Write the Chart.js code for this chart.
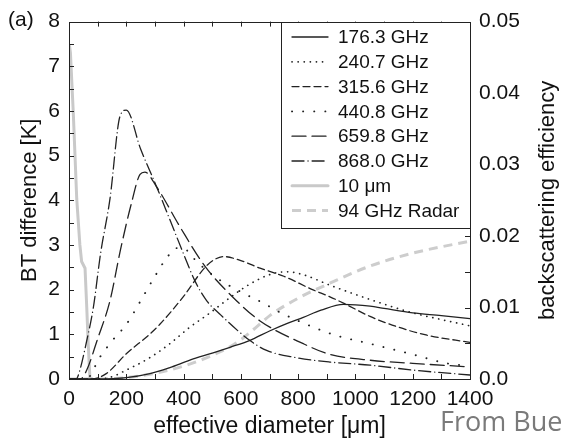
<!DOCTYPE html>
<html>
<head>
<meta charset="utf-8">
<script src="https://cdn.jsdelivr.net/npm/chart.js@4"></script>
<style>
  html, body { margin: 0; padding: 0; background: #fff; }
  #wrap { position: relative; width: 562px; height: 443px; }
</style>
</head>
<body>
<div id="wrap"><canvas id="bt-chart" width="562" height="443"></canvas></div>
<script>
// effective diameter [um] / BT difference [K]
const diam176 = [0, 100, 200, 283, 350, 422, 500, 562, 630, 702, 760, 818, 880, 958, 1051, 1100, 1200, 1300, 1400];
const bt176   = [0, 0, 0.03, 0.12, 0.25, 0.42, 0.58, 0.71, 0.86, 1.08, 1.24, 1.38, 1.54, 1.67, 1.63, 1.58, 1.48, 1.42, 1.35];

const diam240 = [0, 100, 150, 200, 283, 350, 422, 486, 562, 620, 702, 760, 820, 911, 1051, 1200, 1300, 1400];
const bt240   = [0, 0, 0.05, 0.2, 0.48, 0.78, 1.16, 1.45, 1.82, 2.08, 2.34, 2.4, 2.33, 2.1, 1.78, 1.48, 1.33, 1.19];

const diam315 = [0, 80, 130, 201, 283, 318, 400, 475, 510, 540, 600, 667, 750, 850, 911, 964, 1051, 1150, 1250, 1400];
const bt315   = [0, 0, 0.12, 0.57, 1.01, 1.23, 1.85, 2.5, 2.68, 2.74, 2.65, 2.48, 2.3, 2.0, 1.84, 1.68, 1.4, 1.16, 0.98, 0.82];

const diam440 = [0, 60, 108, 150, 201, 250, 300, 340, 376, 400, 450, 516, 600, 678, 737, 853, 935, 1051, 1200, 1319, 1400];
const bt440   = [0, 0, 0.49, 0.85, 1.23, 1.75, 2.3, 2.7, 2.93, 2.92, 2.6, 2.26, 1.95, 1.7, 1.49, 1.16, 0.97, 0.79, 0.55, 0.35, 0.29];

const diam659 = [0, 40, 62, 100, 143, 180, 219, 248, 265, 306, 388, 475, 574, 667, 818, 911, 1051, 1200, 1400];
const bt659   = [0, 0, 0.2, 0.9, 1.75, 2.9, 3.96, 4.58, 4.63, 4.3, 3.4, 2.52, 1.82, 1.3, 0.79, 0.55, 0.42, 0.35, 0.27];

const diam868 = [0, 25, 38, 60, 85, 110, 143, 178, 200, 250, 306, 350, 400, 440, 481, 527, 632, 690, 783, 911, 1051, 1200, 1400];
const bt868   = [0, 0, 0.2, 0.8, 1.6, 2.8, 4.03, 5.88, 6.02, 5.15, 4.3, 3.6, 2.8, 2.19, 1.75, 1.45, 0.86, 0.64, 0.49, 0.38, 0.31, 0.2, 0.09];

const diamIR = [2, 5, 15, 27, 38, 44, 56, 62, 67, 73, 80];
const btIR   = [7.45, 7.3, 5.95, 4.03, 3.0, 2.63, 2.48, 1.6, 0.8, 0.02, 0];

// backscattering efficiency, right axis
const diamRadar = [0, 100, 200, 300, 400, 500, 562, 600, 667, 702, 800, 911, 1051, 1200, 1400];
const bscRadar  = [0, 0, 0.0002, 0.0008, 0.0018, 0.0033, 0.0045, 0.0055, 0.0077, 0.0089, 0.0113, 0.0134, 0.0158, 0.0176, 0.0193];

const xTickValues = [0, 200, 400, 600, 800, 1000, 1200, 1400];
const xMinorTicks = [100, 200, 300, 400, 500, 600, 700, 800, 900, 1000, 1100, 1200, 1300];
const yTickValues = [0, 1, 2, 3, 4, 5, 6, 7, 8];
const yMinorTicks = [0.5, 1, 1.5, 2, 2.5, 3, 3.5, 4, 4.5, 5, 5.5, 6, 6.5, 7, 7.5];
const y2TickValues = [0, 0.01, 0.02, 0.03, 0.04, 0.05];
const y2TickLabels = ['0.0', '0.01', '0.02', '0.03', '0.04', '0.05'];
const y2MinorTicks = [0.005, 0.01, 0.015, 0.02, 0.025, 0.03, 0.035, 0.04, 0.045];

const FONT = '"Liberation Sans", Arial, Helvetica, sans-serif';
const INK = '#222';

const toPts = (xs, ys) => xs.map((x, i) => ({ x, y: ys[i] }));

const series = (label, xs, ys, dash, extra = {}) => ({
    label,
    data: toPts(xs, ys),
    borderColor: INK,
    borderWidth: 1.3,
    borderDash: dash,
    borderCapStyle: 'round',
    pointRadius: 0,
    cubicInterpolationMode: 'monotone',
    yAxisID: 'y',
    ...extra,
});

const datasets = [
    series('176.3 GHz', diam176, bt176, []),
    series('240.7 GHz', diam240, bt240, [0.1, 6], { borderWidth: 1.7 }),
    series('315.6 GHz', diam315, bt315, [7, 4]),
    series('440.8 GHz', diam440, bt440, [0.1, 11], { borderWidth: 1.9 }),
    series('659.8 GHz', diam659, bt659, [14, 6]),
    series('868.0 GHz', diam868, bt868, [12, 4, 0.1, 4]),
    series('10 \u03bcm', diamIR, btIR, [], { borderColor: '#c9c9c9', borderWidth: 3, cubicInterpolationMode: 'default', tension: 0 }),
    series('94 GHz Radar', diamRadar, bscRadar, [9, 6], { borderColor: '#cdcdcd', borderWidth: 3, borderCapStyle: 'butt', yAxisID: 'y2' }),
];

// inward ticks on all four sides and the plot frame
const frameTicks = {
    id: 'frameTicks',
    afterDatasetsDraw(chart) {
        const { ctx, chartArea: a, scales } = chart;
        const len = 5;
        ctx.save();
        ctx.strokeStyle = INK;
        ctx.lineWidth = 1;
        ctx.beginPath();
        xMinorTicks.forEach(v => {
            const px = Math.round(scales.x.getPixelForValue(v)) + 0.5;
            ctx.moveTo(px, a.bottom); ctx.lineTo(px, a.bottom - len);
            ctx.moveTo(px, a.top); ctx.lineTo(px, a.top + len);
        });
        yMinorTicks.forEach(v => {
            const py = Math.round(scales.y.getPixelForValue(v)) + 0.5;
            ctx.moveTo(a.left, py); ctx.lineTo(a.left + len, py);
        });
        y2MinorTicks.forEach(v => {
            const py = Math.round(scales.y2.getPixelForValue(v)) + 0.5;
            ctx.moveTo(a.right, py); ctx.lineTo(a.right - len, py);
        });
        ctx.stroke();
        ctx.strokeRect(Math.round(a.left) + 0.5, Math.round(a.top) + 0.5,
            Math.round(a.right - a.left), Math.round(a.bottom - a.top));
        ctx.restore();
    },
};

// boxed legend in the upper right, samples use each dataset's own dash
const boxLegend = {
    id: 'boxLegend',
    afterDraw(chart) {
        const { ctx, chartArea: a } = chart;
        const left = 281, top = Math.round(a.top), right = Math.round(a.right), bottom = 228;
        ctx.save();
        ctx.fillStyle = '#fff';
        ctx.fillRect(left, top, right - left, bottom - top);
        ctx.strokeStyle = INK;
        ctx.lineWidth = 1;
        ctx.strokeRect(left + 0.5, top + 0.5, right - left, bottom - top);
        chart.data.datasets.forEach((ds, i) => {
            const yy = 37 + i * 24.8;
            ctx.beginPath();
            ctx.setLineDash(ds.borderDash || []);
            ctx.lineCap = ds.borderCapStyle || 'butt';
            ctx.strokeStyle = ds.borderColor;
            ctx.lineWidth = ds.borderWidth;
            ctx.moveTo(292, yy);
            ctx.lineTo(328, yy);
            ctx.stroke();
            ctx.setLineDash([]);
            ctx.fillStyle = '#111';
            ctx.font = '19px ' + FONT;
            ctx.textBaseline = 'middle';
            ctx.textAlign = 'left';
            ctx.fillText(ds.label, 338, yy + 1);
        });
        ctx.restore();
    },
};

// panel letter, right-hand title (reads upward) and source note
const extraText = {
    id: 'extraText',
    afterDraw(chart) {
        const { ctx, chartArea: a } = chart;
        ctx.save();
        ctx.fillStyle = '#111';
        ctx.font = '21px ' + FONT;
        ctx.textBaseline = 'middle';
        ctx.textAlign = 'left';
        ctx.fillText('(a)', 8, 20);
        ctx.font = '22px ' + FONT;
        ctx.translate(548, (a.top + a.bottom) / 2);
        ctx.rotate(-Math.PI / 2);
        ctx.textAlign = 'center';
        ctx.fillText('backscattering efficiency', 0, 0);
        ctx.restore();
        ctx.save();
        ctx.fillStyle = '#7a7a7a';
        ctx.font = '27px "Open Sans", sans-serif';
        ctx.textBaseline = 'alphabetic';
        ctx.fillText('From Bue', 440, 431);
        ctx.restore();
    },
};

const tickFont = { family: FONT, size: 21 };

const chart = new Chart(document.getElementById('bt-chart'), {
    type: 'line',
    data: { datasets },
    options: {
        responsive: false,
        animation: false,
        layout: { padding: { top: 17, left: 0, right: 0, bottom: 0 } },
        plugins: { legend: { display: false }, tooltip: { enabled: false } },
        scales: {
            x: {
                type: 'linear',
                min: 0,
                max: 1400,
                grid: { display: false, drawTicks: false },
                border: { display: false },
                afterBuildTicks: s => { s.ticks = xTickValues.map(value => ({ value })); },
                afterFit: s => { s.height = 64; },
                ticks: { font: tickFont, color: '#111', padding: 8, maxRotation: 0, autoSkip: false, callback: v => String(v) },
                title: {
                    display: true,
                    text: 'effective diameter [\u03bcm]',
                    font: { family: FONT, size: 23 },
                    color: '#111',
                    padding: { top: 0, bottom: 3 },
                },
            },
            y: {
                position: 'left',
                min: 0,
                max: 8,
                grid: { display: false, drawTicks: false },
                border: { display: false },
                afterBuildTicks: s => { s.ticks = yTickValues.map(value => ({ value })); },
                afterFit: s => { s.width = 69; },
                ticks: { font: tickFont, color: '#111', padding: 9, callback: v => String(v) },
                title: {
                    display: true,
                    text: 'BT difference [K]',
                    font: { family: FONT, size: 22 },
                    color: '#111',
                    padding: { top: 17, bottom: 0 },
                },
            },
            y2: {
                position: 'right',
                min: 0,
                max: 0.05,
                grid: { display: false, drawTicks: false },
                border: { display: false },
                afterBuildTicks: s => { s.ticks = y2TickValues.map(value => ({ value })); },
                afterFit: s => { s.width = 92; },
                ticks: {
                    font: tickFont,
                    color: '#111',
                    padding: 9,
                    callback: (v) => y2TickLabels[y2TickValues.indexOf(v)] ?? '',
                },
            },
        },
    },
    plugins: [frameTicks, boxLegend, extraText],
});
</script>
</body>
</html>
